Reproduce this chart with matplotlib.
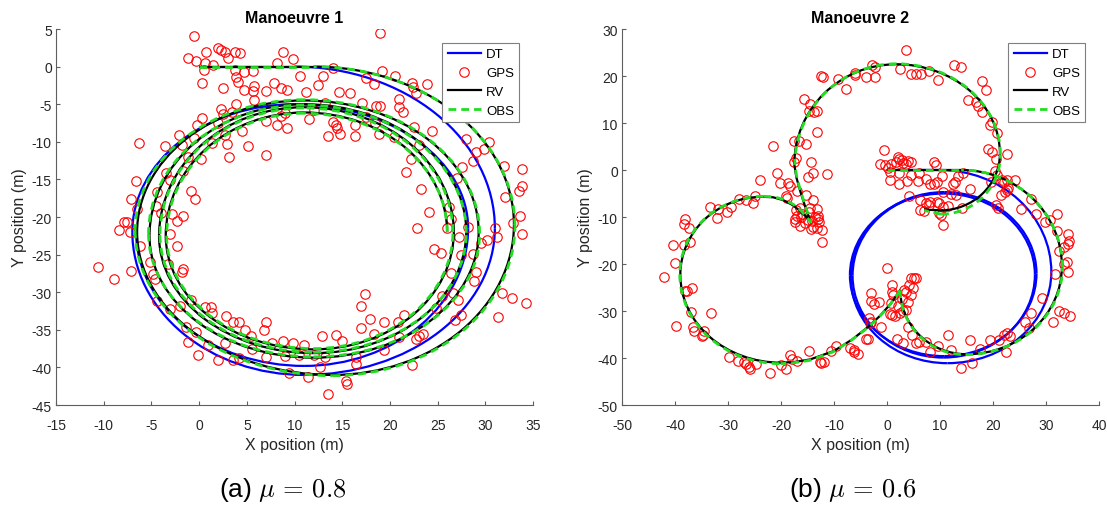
import numpy as np
import matplotlib.pyplot as plt
from matplotlib.patches import Arc
from matplotlib.lines import Line2D

plt.rcParams['font.family'] = ['Liberation Sans', 'DejaVu Sans']
plt.rcParams['mathtext.fontset'] = 'cm'
plt.rcParams['axes.unicode_minus'] = False

# Las trayectorias se guardan como tramos rectos y como puntos extremos
# (arriba / derecha / abajo / izquierda) unidos por cuartos de elipse.

# ---------------------------------------------------------------
# Manoeuvre 1  (mu = 0.8)
# ---------------------------------------------------------------
dt1_recta = [(0, 0), (10, 0)]
dt1_extremos = [(10, 0), (31, -21.5), (11, -41), (-7, -22), (10, -5),
                (28.2, -21.5), (11, -39.8), (-6.6, -22)]

rv1_recta = [(0, 0), (12, 0)]
rv1_extremos = [(12, 0), (33, -21), (14, -41), (-6.5, -22),
                (11, -4.5), (29.3, -22), (12, -38.7), (-5.2, -22.5),
                (11, -5.0), (28, -22), (12, -38.1), (-4.2, -22.5),
                (11, -5.4), (26.7, -22), (12, -37.6), (-3.5, -22.5),
                (11, -6.1), (26, -22)]

obs1_recta = [(0, 0), (12, 0)]
obs1_extremos = [(12, 0), (33.1, -21.2), (14, -41.1), (-6.7, -21.8),
                 (11, -4.4), (29.4, -22.2), (12, -38.6), (-5.3, -22.2),
                 (11, -5.1), (28, -22.1), (12, -38.0), (-4.1, -22.4),
                 (11, -5.5), (26.6, -22), (12, -37.5), (-3.4, -22.5),
                 (11, -6.2), (26, -22)]

gps1 = np.array([
    (-0.5, 4.1), (19.0, 4.5), (-1.2, 1.2), (0.7, 2.0), (-0.3, 0.7), (0.6, 0.5), (1.5, 0.2), (0.5, -0.4),
    (0.3, -2.2), (2.0, 2.5), (2.3, 2.2), (2.7, 2.0), (3.0, 1.2), (3.8, 1.9), (4.3, 1.8), (8.8, 2.0),
    (9.8, 1.0), (8.2, 0.5), (14.0, -0.2), (19.2, -0.6), (20.5, -1.2), (22.3, -2.2), (22.4, -2.7),
    (23.9, -2.3), (17.5, -1.5), (13.0, -1.3), (10.6, -1.3), (3.8, -0.5), (4.7, -0.7), (5.7, -0.6),
    (3.9, -1.4), (4.1, -2.1), (4.7, -3.1), (5.8, -2.6), (5.7, -3.3), (2.5, -2.9), (7.0, -3.2),
    (7.8, -2.2), (8.6, -2.8), (9.2, -3.1), (11.2, -3.4), (12.5, -2.5), (14.7, -3.4), (15.8, -3.5),
    (18.3, -2.3), (22.7, -3.5), (20.9, -4.3), (21.0, -5.4), (21.4, -6.0), (19.0, -5.3), (18.5, -5.2),
    (17.1, -4.8), (18.4, -7.5), (17.5, -6.7), (13.2, -4.8), (12.0, -5.8), (11.5, -7.0), (9.0, -6.2),
    (8.2, -7.8), (9.2, -8.2), (7.0, -7.2), (5.8, -4.5), (3.9, -5.0), (2.3, -5.6), (2.5, -6.3),
    (0.3, -6.8), (-0.2, -7.8), (2.0, -7.5), (3.4, -6.1), (4.5, -8.5), (2.7, -9.1), (2.9, -10.3),
    (1.4, -10.1), (3.1, -12.0), (0.2, -12.3), (-0.5, -9.5), (-1.2, -12.0), (-2.1, -9.1), (-1.7, -13.9),
    (-3.6, -10.5), (-3.5, -14.2), (-3.1, -15.1), (-6.3, -10.2), (-6.6, -15.2), (-7.1, -17.6),
    (-6.5, -19.0), (-7.6, -20.6), (-7.9, -20.7), (-8.4, -21.7), (-7.2, -22.0), (-6.2, -23.8),
    (-4.4, -16.7), (-4.5, -18.5), (-4.0, -19.5), (-2.8, -19.6), (-2.3, -20.5), (-1.7, -19.8),
    (-0.8, -16.5), (-0.4, -17.6), (-3.1, -22.3), (-2.3, -23.9), (-10.6, -26.6), (-8.9, -28.2),
    (-7.1, -27.2), (-5.1, -26.0), (-4.8, -27.6), (-4.6, -28.3), (-3.3, -26.3), (-1.7, -26.9),
    (-1.8, -27.3), (-4.4, -31.2), (-3.1, -32.2), (-2.0, -31.8), (-0.8, -31.0), (0.6, -31.9),
    (1.2, -32.0), (1.4, -32.8), (2.8, -33.2), (3.6, -34.0), (4.2, -34.0), (4.8, -35.0), (5.4, -35.8),
    (7.0, -34.0), (-1.4, -34.6), (-1.2, -36.6), (-0.3, -35.3), (-0.1, -38.3), (2.0, -39.0),
    (3.6, -39.0), (4.2, -38.7), (7.0, -38.6), (7.6, -36.8), (8.8, -36.5), (9.8, -36.8), (9.4, -40.8),
    (11.0, -37.0), (11.4, -41.3), (12.7, -40.0), (12.9, -35.8), (14.3, -35.7), (15.0, -36.5),
    (16.4, -38.6), (16.4, -39.5), (15.4, -41.8), (15.5, -42.2), (13.5, -43.5), (17.0, -34.8),
    (17.0, -31.8), (17.4, -30.2), (17.9, -33.6), (18.3, -35.5), (19.4, -33.9), (19.4, -37.7),
    (20.8, -33.9), (21.0, -36.0), (21.5, -33.0), (22.3, -39.7), (22.7, -36.2), (23.0, -35.8),
    (23.5, -35.5), (24.8, -32.1), (25.5, -30.5), (26.6, -30.1), (26.8, -33.7), (27.1, -31.0),
    (27.5, -33.0), (23.3, -16.3), (21.7, -14.0), (22.8, -21.5), (22.2, -12.3), (23.0, -10.4),
    (24.1, -19.4), (24.6, -24.2), (25.4, -24.8), (26.0, -21.4), (26.2, -18.7), (26.4, -20.2),
    (27.2, -22.7), (26.4, -27.4), (27.5, -25.0), (28.7, -24.9), (29.0, -27.3), (28.8, -28.5),
    (24.4, -8.6), (27.0, -14.8), (27.6, -13.3), (28.0, -9.6), (29.0, -11.3), (28.7, -12.5),
    (29.9, -11.0), (30.4, -10.0), (31.0, -21.4), (31.2, -22.6), (30.2, -23.0), (32.1, -17.3),
    (32.0, -13.2), (31.8, -30.1), (31.3, -33.3), (32.8, -30.8), (34.3, -31.4), (33.8, -22.2),
    (33.6, -19.8), (33.5, -16.6), (33.8, -15.9), (33.8, -13.6), (32.9, -20.8), (29.5, -23.5),
    (28.2, -21.3), (13.5, -9.2), (14.3, -7.7), (14.0, -7.4), (14.5, -8.2), (14.8, -9.0), (16.3, -9.2),
    (16.3, -7.8), (18.9, -8.9), (20.4, -9.4), (22.5, -8.0), (8.6, -6.6), (5.1, -10.5), (7.0, -11.7),
    (-1.8, -10.4), (9.0, -38.5), (10.5, -38.3), (12.0, -38.4), (13.2, -38.6),
    (2.7, -36.8), (6.8, -35.0), (0.9, -37.0), (5.5, -37.5)])

# ---------------------------------------------------------------
# Manoeuvre 2  (mu = 0.6)
# ---------------------------------------------------------------
dt2_recta = [(0, 0), (10, 0)]
dt2_extremos = [(10, 0), (31, -21.7), (11.4, -41.1), (-6.8, -23),
                (10.8, -4.7), (28.2, -22), (10.8, -39.6), (-7, -22.4),
                (10.6, -5), (27.9, -22.3), (10.6, -39.9), (-6.5, -22.5), (10.6, -4.9)]

rv2_recta = [(0, 0), (14, 0)]
rv2_lazo_der = [(14, 0), (33, -20.5), (15, -39.2), (2.5, -25.5)]
rv2_cruce = [(2.5, -25.5), (0.8, -28.3), (-1.3, -31), (-3.6, -33.4), (-6.5, -36),
             (-10, -38.5), (-14.5, -40.3), (-17.5, -40.85), (-20, -41)]
rv2_lazo_izq = [(-20, -41), (-39, -22.3), (-23.5, -5.7)]
rv2_pico = [(-23.5, -5.7), (-21.5, -5.8), (-19.6, -6.4), (-17.9, -7.4), (-16.4, -8.7),
            (-14.5, -10.8), (-15.5, -7.6), (-16.4, -4.4), (-17.1, -1.6), (-17.5, 1.2)]
rv2_lazo_sup = [(-17.5, 1.2), (1.7, 22.5), (21.3, 3.5), (10, -8.6)]
rv2_final = [(10, -8.6), (7, -8.4)]

obs2_recta = [(0, 0), (14, 0)]
obs2_lazo_der = [(14, 0), (33.1, -20.7), (14.8, -39.3), (2.5, -25.6)]
obs2_cruce = [(2.5, -25.6), (0.6, -28.6), (-1.5, -31.3), (-3.8, -33.7), (-6.7, -36.2),
              (-10.2, -38.7), (-14.6, -40.5), (-17.6, -41), (-20.1, -41.2)]
obs2_lazo_izq = [(-20.1, -41.2), (-39.1, -22.2), (-23.3, -5.6)]
obs2_pico = [(-23.3, -5.6), (-21.3, -5.7), (-19.4, -6.3), (-17.7, -7.3), (-16.2, -8.7),
             (-14.4, -11), (-15.4, -7.7), (-16.3, -4.5), (-17, -1.7), (-17.4, 1.1)]
obs2_lazo_sup = [(-17.4, 1.1), (1.8, 22.6), (21.4, 3.3), (10.2, -9.4)]
obs2_final = [(10.2, -9.4), (7, -8.6)]

gps2 = np.array([
    (3.6, 25.5), (12.6, 22.4), (14.0, 21.9), (2.5, 21.5), (4.5, 20.5), (5.5, 20.5), (6.5, 20.5),
    (8.0, 21.0), (9.7, 19.2), (-2.8, 22.3), (-2.2, 22.0), (-4.0, 19.8), (-2.3, 19.7), (-6.0, 20.2),
    (-6.0, 20.6), (-9.2, 19.3), (-12.5, 19.9), (-12.0, 19.7), (-7.8, 17.3), (18.0, 18.9), (18.6, 17.1),
    (15.2, 15.0), (16.8, 14.4), (17.2, 13.7), (18.0, 12.3), (19.8, 10.3), (19.5, 9.5), (20.8, 7.9),
    (-15.7, 15.1), (-14.5, 14.0), (-14.8, 12.6), (-13.7, 12.3), (-13.2, 12.5), (-13.3, 8.1),
    (-17.5, 6.1), (-16.6, 6.2), (-15.3, 5.6), (-21.5, 5.2), (-17.2, 2.5), (-17.5, 1.7), (-14.3, 1.6),
    (-14.0, -0.6), (-15.0, -1.5), (-11.4, -0.8), (-20.8, -0.6), (-20.1, -2.7), (-18.6, -2.8),
    (-18.3, -3.5), (-17.0, -4.5), (-24.0, -2.2), (19.0, 4.4), (19.8, 3.9), (22.6, 3.5), (20.6, 2.3),
    (20.3, -0.2), (20.8, -1.1), (19.7, -2.6),
    (-15.0, -10.6), (-14.2, -10.8), (-13.6, -10.0), (-13.0, -10.5), (-12.8, -11.0), (-13.3, -12.3),
    (-14.0, -12.1), (-16.5, -12.0), (-17.3, -10.5), (-16.3, -10.0), (-17.4, -11.0), (-12.2, -12.8),
    (-12.2, -15.4), (-14.4, -12.5), (-13.3, -8.4), (-14.0, -6.4), (-15.2, -5.4), (-16.5, -8.0),
    (-18.8, -6.0), (-19.0, -5.5), (-16.0, -9.3), (-14.8, -9.0), (-13.0, -9.8), (-15.5, -11.2),
    (-17.2, -8.6), (-17.0, -9.8), (-14.5, -8.1),
    (-25.0, -5.5), (-26.6, -6.4), (-25.2, -7.0), (-28.0, -6.2), (-29.5, -7.9), (-33.4, -7.8),
    (-31.9, -8.3), (-32.0, -10.2), (-30.2, -8.9), (-38.1, -10.5), (-38.4, -11.5), (-37.3, -12.3),
    (-40.4, -16.0), (-38.4, -16.0), (-37.2, -15.3), (-42.1, -22.8), (-40.0, -19.8), (-38.2, -25.7),
    (-37.7, -25.7), (-36.8, -25.2), (-37.0, -30.2), (-33.3, -30.5), (-39.8, -33.2), (-36.7, -33.5),
    (-36.5, -34.3), (-34.5, -34.3), (-34.8, -35.2), (-35.0, -35.3), (-29.9, -39.8), (-28.2, -40.7),
    (-27.0, -40.9), (-26.7, -41.2), (-26.0, -41.9), (-25.9, -42.3), (-24.8, -41.2), (-22.0, -43.2),
    (-20.0, -41.5), (-19.0, -42.3), (-18.4, -39.3), (-18.0, -40.2), (-17.0, -40.7), (-14.8, -38.6),
    (-12.6, -40.8), (-12.4, -41.0), (-11.9, -40.8), (-10.5, -38.6), (-9.6, -37.4), (-7.0, -37.8),
    (-6.3, -38.3), (-6.2, -38.8), (-5.5, -39.2), (-4.0, -36.0), (-3.6, -36.0), (-3.2, -32.5),
    (-3.4, -31.5), (-3.0, -32.3), (-1.1, -33.4),
    (0.0, -20.8), (1.0, -24.5), (1.2, -26.5), (0.7, -28.3), (0.5, -30.6), (1.0, -30.8), (2.0, -29.0),
    (2.8, -27.4), (3.2, -25.6), (4.2, -24.5), (4.5, -22.9), (5.1, -22.9), (5.5, -23.0), (4.9, -25.0),
    (3.6, -26.0), (4.5, -26.5), (4.0, -28.0), (3.5, -29.7), (1.5, -31.0), (2.5, -30.5), (3.0, -30.0),
    (-3.0, -26.2), (-3.1, -27.8), (-1.5, -28.0), (-2.5, -28.5), (1.0, -26.0),
    (1.9, -35.9), (3.9, -33.5), (4.8, -35.2), (5.5, -36.8), (6.1, -36.6), (3.0, -36.8), (7.3, -36.5),
    (9.7, -37.5), (11.5, -35.1), (12.0, -38.2), (8.2, -38.8), (14.0, -42.1), (16.0, -41.1),
    (15.6, -36.2), (17.6, -38.0), (19.5, -36.2), (21.2, -36.2), (22.0, -35.1), (22.7, -34.6),
    (23.2, -35.3), (22.4, -38.7), (26.0, -32.4), (27.1, -30.5), (26.8, -33.7), (29.3, -27.3),
    (31.6, -22.1), (31.3, -32.4), (32.5, -29.9), (33.3, -30.4), (34.5, -31.1), (34.2, -21.7),
    (34.0, -19.6), (33.3, -20.1), (32.4, -17.3), (33.4, -16.4), (34.2, -15.7), (34.3, -15.1),
    (34.1, -13.6), (32.1, -13.0), (32.1, -9.4), (30.7, -10.6), (29.8, -11.0), (28.2, -9.3),
    (27.1, -6.1), (25.3, -8.2), (21.0, -8.1), (20.6, -7.4), (21.5, -5.3), (22.3, -4.7), (22.6, -4.2),
    (22.8, -3.9), (22.0, -2.5), (22.6, -2.2), (24.2, -2.1), (21.7, -2.1),
    (-0.5, 4.2), (-1.3, 1.2), (-0.3, 1.1), (0.2, 0.5), (0.8, 1.2), (1.7, 1.8), (2.0, 2.7), (2.2, 2.3),
    (2.8, 2.1), (3.1, 1.5), (4.0, 1.9), (4.6, 1.8), (3.5, 1.2), (0.6, -0.5), (0.5, -2.2), (2.2, -3.0),
    (3.7, -2.4), (2.3, -0.6), (4.5, -1.0), (6.0, -0.7), (5.8, -2.3), (7.4, -1.9), (8.2, -3.0),
    (8.8, -3.0), (9.4, -2.6), (8.9, 1.8), (9.3, 1.1), (10.4, -1.3), (12.8, -2.5), (13.4, -1.3),
    (12.5, -3.0), (14.3, -0.6), (15.6, -4.1), (13.0, -5.3), (10.5, -4.7), (12.0, -5.2), (11.5, -7.6),
    (10.6, -7.8), (9.9, -7.0), (9.8, -9.1), (10.1, -9.6), (10.5, -11.8), (9.5, -6.8), (8.1, -6.8),
    (7.3, -7.0), (6.2, -8.5), (6.9, -8.8), (14.2, -8.0), (8.0, -7.4), (4.2, -5.5), (6.3, -6.3)])

# tramos de cada trayectoria: 'recta' = polilinea, 'arco_h' / 'arco_v' = extremos
# unidos por cuartos de elipse (h: el primer punto tiene tangente horizontal)
dt1 = [('recta', dt1_recta), ('arco_h', dt1_extremos)]
rv1 = [('recta', rv1_recta), ('arco_h', rv1_extremos)]
obs1 = [('recta', obs1_recta), ('arco_h', obs1_extremos)]
dt2 = [('recta', dt2_recta), ('arco_h', dt2_extremos)]
rv2 = [('recta', rv2_recta), ('arco_h', rv2_lazo_der), ('recta', rv2_cruce),
       ('arco_h', rv2_lazo_izq), ('recta', rv2_pico), ('arco_v', rv2_lazo_sup), ('recta', rv2_final)]
obs2 = [('recta', obs2_recta), ('arco_h', obs2_lazo_der), ('recta', obs2_cruce),
        ('arco_h', obs2_lazo_izq), ('recta', obs2_pico), ('arco_v', obs2_lazo_sup), ('recta', obs2_final)]

verde = '#22dd22'
gris = '#262626'
estilos = {
    'DT': dict(color='blue', lw=1.6, ls='-'),
    'RV': dict(color='black', lw=1.6, ls='-'),
    'OBS': dict(color=verde, lw=2.0, ls=(0, (2.8, 1.8))),
}
estilo_gps = dict(ls='none', marker='o', mfc='none', mec='red', ms=6.8, mew=0.8)


def trazar(ax, tramos, estilo, zorder):
    for tipo, puntos in tramos:
        pts = np.asarray(puntos, dtype=float)
        if tipo == 'recta':
            ax.plot(pts[:, 0], pts[:, 1], zorder=zorder, solid_capstyle='butt', **estilo)
            continue
        horizontal = tipo == 'arco_h'
        for p, q in zip(pts[:-1], pts[1:]):
            if horizontal:
                centro = (p[0], q[1])
                ang_p = 90 if p[1] > centro[1] else 270
                ang_q = 0 if q[0] > centro[0] else 180
            else:
                centro = (q[0], p[1])
                ang_p = 0 if p[0] > centro[0] else 180
                ang_q = 90 if q[1] > centro[1] else 270
            if (ang_q - ang_p) % 360 == 90:
                t1, t2 = ang_p, ang_q
            else:
                t1, t2 = ang_q, ang_p
            ax.add_patch(Arc(centro, 2 * abs(q[0] - p[0]), 2 * abs(q[1] - p[1]),
                             theta1=t1, theta2=t2, zorder=zorder, **estilo))
            horizontal = not horizontal


def dibujar(ax, dt, gps, rv, obs, titulo, xlim, ylim, paso):
    trazar(ax, dt, estilos['DT'], 2)
    ax.plot(gps[:, 0], gps[:, 1], zorder=3, **estilo_gps)
    trazar(ax, rv, estilos['RV'], 4)
    trazar(ax, obs, estilos['OBS'], 5)

    ax.set_xlim(*xlim)
    ax.set_ylim(*ylim)
    ax.set_xticks(np.arange(xlim[0], xlim[1] + 1, paso))
    ax.set_yticks(np.arange(ylim[0], ylim[1] + 1, paso))
    for lado in ['top', 'right']:
        ax.spines[lado].set_visible(False)
    for lado in ['left', 'bottom']:
        ax.spines[lado].set_color('#5e5e5e')
        ax.spines[lado].set_linewidth(0.8)
    ax.tick_params(direction='in', length=3, width=0.8, colors='#5e5e5e',
                   labelcolor=gris, labelsize=10)
    ax.tick_params(axis='x', pad=9)
    ax.tick_params(axis='y', pad=3)

    ax.set_title(titulo, fontsize=11.5, fontweight='bold', color='black', pad=5)
    ax.set_xlabel('X position (m)', fontsize=11.5, color=gris, labelpad=4)
    ax.set_ylabel('Y position (m)', fontsize=11.5, color=gris, labelpad=3)

    manejadores = [Line2D([], [], **estilos['DT']),
                   Line2D([], [], **estilo_gps),
                   Line2D([], [], **estilos['RV']),
                   Line2D([], [], **estilos['OBS'])]
    leyenda = ax.legend(manejadores, ['DT', 'GPS', 'RV', 'OBS'], loc='upper right',
                        bbox_to_anchor=(0.971, 0.963), borderaxespad=0,
                        fontsize=9.5, fancybox=False, framealpha=1, edgecolor='#7f7f7f',
                        handlelength=2.5, labelspacing=0.5, borderpad=0.4, handletextpad=0.4)
    leyenda.get_frame().set_linewidth(0.8)


fig = plt.figure(figsize=(11.07, 5.06), dpi=100)
ax1 = fig.add_axes([0.0506, 0.1976, 0.4309, 0.7431])
ax2 = fig.add_axes([0.5619, 0.1976, 0.4309, 0.7431])

dibujar(ax1, dt1, gps1, rv1, obs1, 'Manoeuvre 1', (-15, 35), (-45, 5), 5)
dibujar(ax2, dt2, gps2, rv2, obs2, 'Manoeuvre 2', (-50, 40), (-50, 30), 10)

fig.text(0.255, 0.032, r'(a) $\mu\,=\,0.8$', ha='center', va='center', fontsize=19)
fig.text(0.770, 0.032, r'(b) $\mu\,=\,0.6$', ha='center', va='center', fontsize=19)

fig.savefig('out.png', dpi=100)
